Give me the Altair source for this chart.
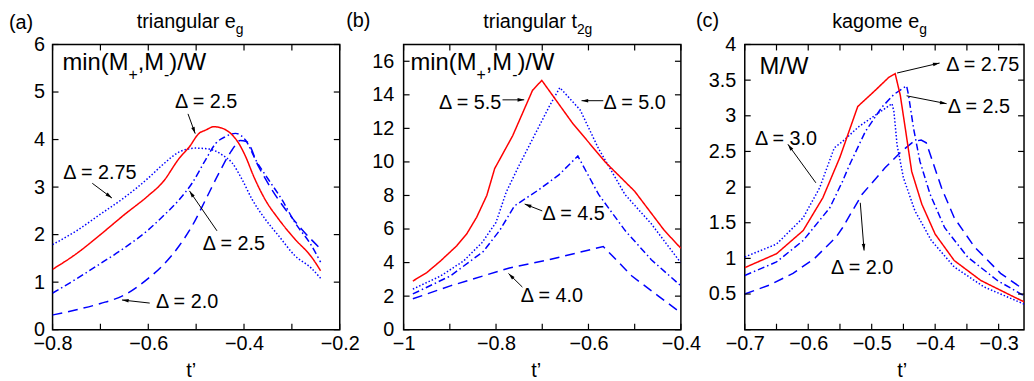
import math
import altair as alt
import pandas as pd

FONT = "Liberation Sans"
RED = "#ff0000"
BLUE = "#0000ff"

# ---------------- panel (a): triangular e_g ----------------
A_RED_X = [-0.80, -0.75, -0.70, -0.65, -0.60, -0.57, -0.535, -0.514, -0.494, -0.48, -0.463, -0.446, -0.428, -0.411, -0.397, -0.38, -0.356, -0.328, -0.294, -0.259, -0.24]
A_RED_Y = [1.27, 1.60, 2.00, 2.42, 2.82, 3.10, 3.61, 3.85, 4.13, 4.20, 4.27, 4.24, 4.13, 3.92, 3.65, 3.23, 2.74, 2.33, 1.91, 1.53, 1.24]
A_DOT_X = [-0.80, -0.75, -0.70, -0.65, -0.60, -0.57, -0.535, -0.501, -0.473, -0.446, -0.425, -0.404, -0.383, -0.356, -0.328, -0.294, -0.259, -0.24]
A_DOT_Y = [1.79, 2.08, 2.43, 2.78, 3.19, 3.47, 3.74, 3.82, 3.80, 3.68, 3.51, 3.16, 2.74, 2.33, 1.98, 1.56, 1.29, 1.08]
A_DDOT_X = [-0.80, -0.75, -0.70, -0.65, -0.60, -0.57, -0.535, -0.508, -0.48, -0.459, -0.439, -0.418, -0.397, -0.376, -0.349, -0.321, -0.294, -0.259, -0.24]
A_DDOT_Y = [0.77, 1.07, 1.39, 1.72, 2.10, 2.38, 2.74, 3.09, 3.58, 3.92, 4.06, 4.13, 3.99, 3.58, 3.16, 2.74, 2.26, 1.77, 1.42]
A_DASH_X = [-0.80, -0.75, -0.70, -0.65, -0.60, -0.57, -0.535, -0.508, -0.48, -0.452, -0.425, -0.408, -0.395, -0.37, -0.342, -0.314, -0.28, -0.24]
A_DASH_Y = [0.31, 0.42, 0.55, 0.73, 1.08, 1.35, 1.77, 2.19, 2.74, 3.30, 3.78, 3.98, 3.96, 3.44, 2.95, 2.54, 2.12, 1.70]
A_XLAB = [-0.8, -0.6, -0.4, -0.2]
A_YLAB = [0, 1, 2, 3, 4, 5, 6]
A_XTICK = [-0.8, -0.7, -0.6, -0.5, -0.4, -0.3, -0.2]
A_YTICK = [0, 1, 2, 3, 4, 5, 6]
A_NOTE_T = ["Δ = 2.5", "Δ = 2.75", "Δ = 2.5", "Δ = 2.0"]
A_NOTE_X = [-0.479, -0.701, -0.421, -0.519]
A_NOTE_Y = [4.79, 3.29, 1.81, 0.58]
A_ARR_X1 = [-0.517, -0.717, -0.4565, -0.597]
A_ARR_Y1 = [4.54, 3.08, 2.08, 0.56]
A_ARR_X2 = [-0.502, -0.676, -0.514, -0.655]
A_ARR_Y2 = [4.125, 2.77, 2.92, 0.625]

# ---------------- panel (b): triangular t_2g ----------------
B_RED_X = [-0.98, -0.95, -0.92, -0.885, -0.863, -0.842, -0.82, -0.803, -0.764, -0.721, -0.701, -0.635, -0.564, -0.50, -0.436, -0.40]
B_RED_Y = [2.90, 3.40, 4.10, 5.00, 5.73, 6.70, 8.00, 9.60, 11.56, 14.27, 14.86, 12.33, 10.00, 8.25, 5.92, 4.85]
B_DOT_X = [-0.98, -0.92, -0.87, -0.83, -0.80, -0.778, -0.75, -0.721, -0.685, -0.662, -0.618, -0.578, -0.521, -0.464, -0.40]
B_DOT_Y = [2.42, 3.20, 4.10, 5.20, 6.40, 8.20, 9.80, 11.36, 13.30, 14.43, 13.10, 10.78, 8.06, 6.31, 3.98]
B_DDOT_X = [-0.98, -0.899, -0.828, -0.792, -0.76, -0.707, -0.664, -0.623, -0.578, -0.521, -0.464, -0.40]
B_DDOT_Y = [2.13, 3.20, 4.65, 5.92, 7.38, 8.35, 9.23, 10.35, 8.06, 5.92, 4.17, 2.61]
B_DASH_X = [-0.98, -0.899, -0.771, -0.685, -0.568, -0.506, -0.45, -0.40]
B_DASH_Y = [1.84, 2.61, 3.68, 4.17, 4.96, 3.20, 2.03, 1.00]
B_XLAB = [-1, -0.8, -0.6, -0.4]
B_YLAB = [0, 2, 4, 6, 8, 10, 12, 14, 16]
B_XTICK = [-1, -0.9, -0.8, -0.7, -0.6, -0.5, -0.4]
B_YTICK = [0, 2, 4, 6, 8, 10, 12, 14, 16]
B_NOTE_T = ["Δ = 5.5", "Δ = 5.0", "Δ = 4.5", "Δ = 4.0"]
B_NOTE_X = [-0.856, -0.50, -0.632, -0.679]
B_NOTE_Y = [13.5, 13.5, 6.91, 2.01]
B_ARR_X1 = [-0.786, -0.568, -0.70, -0.743]
B_ARR_Y1 = [13.7, 13.65, 7.08, 2.54]
B_ARR_X2 = [-0.739, -0.615, -0.738, -0.773]
B_ARR_Y2 = [13.7, 13.65, 7.49, 3.35]

# ---------------- panel (c): kagome e_g ----------------
C_RED_X = [-0.70, -0.65, -0.608, -0.577, -0.55, -0.522, -0.494, -0.473, -0.463, -0.455, -0.447, -0.437, -0.421, -0.40, -0.37, -0.328, -0.276, -0.255]
C_RED_Y = [0.87, 1.065, 1.39, 1.85, 2.42, 3.13, 3.36, 3.54, 3.59, 3.29, 2.82, 2.22, 1.76, 1.34, 0.97, 0.69, 0.46, 0.37]
C_DOT_X = [-0.70, -0.65, -0.608, -0.582, -0.559, -0.546, -0.52, -0.494, -0.468, -0.465, -0.46, -0.45, -0.432, -0.406, -0.37, -0.323, -0.255]
C_DOT_Y = [1.02, 1.20, 1.57, 1.99, 2.55, 2.64, 2.85, 3.01, 3.17, 3.06, 2.59, 2.13, 1.67, 1.25, 0.88, 0.60, 0.34]
C_DDOT_X = [-0.70, -0.65, -0.608, -0.566, -0.546, -0.535, -0.51, -0.484, -0.465, -0.445, -0.442, -0.434, -0.424, -0.408, -0.385, -0.349, -0.302, -0.255]
C_DDOT_Y = [0.76, 0.95, 1.25, 1.71, 2.08, 2.31, 2.78, 3.12, 3.30, 3.42, 3.29, 2.82, 2.36, 1.90, 1.43, 1.02, 0.69, 0.45]
C_DASH_X = [-0.70, -0.66, -0.624, -0.59, -0.556, -0.546, -0.515, -0.479, -0.453, -0.434, -0.422, -0.414, -0.406, -0.39, -0.37, -0.338, -0.297, -0.255]
C_DASH_Y = [0.50, 0.63, 0.79, 1.00, 1.30, 1.43, 1.90, 2.27, 2.50, 2.64, 2.66, 2.62, 2.41, 1.99, 1.57, 1.16, 0.79, 0.53]
C_XLAB = [-0.7, -0.6, -0.5, -0.4, -0.3]
C_YLAB = [0.5, 1, 1.5, 2, 2.5, 3, 3.5, 4]
C_XTICK = [-0.7, -0.65, -0.6, -0.55, -0.5, -0.45, -0.4, -0.35, -0.3]
C_YTICK = [0, 0.5, 1, 1.5, 2, 2.5, 3, 3.5, 4]
C_NOTE_T = ["Δ = 2.75", "Δ = 2.5", "Δ = 3.0", "Δ = 2.0"]
C_NOTE_X = [-0.325, -0.331, -0.635, -0.515]
C_NOTE_Y = [3.71, 3.125, 2.68, 0.86]
C_ARR_X1 = [-0.46, -0.445, -0.588, -0.518]
C_ARR_Y1 = [3.60, 3.28, 2.06, 1.78]
C_ARR_X2 = [-0.393, -0.382, -0.632, -0.512]
C_ARR_Y2 = [3.74, 3.17, 2.60, 1.11]

DASHES = {"solid": [1, 0], "dotted": [1.5, 2], "dashed": [10, 6], "dashdot": [7, 3, 1.5, 3]}
ARROW = "M0,0L-1.2,4.5L1.2,4.5Z"
ONE = pd.DataFrame({"k": [0]})


def ptext(txt, x, y, size=20, align="left"):
    return alt.Chart(ONE).mark_text(
        text=txt, font=FONT, fontSize=size, align=align, baseline="alphabetic", color="black"
    ).encode(x=alt.value(x), y=alt.value(y))


def panel(W, H, xdom, ydom, xlab, ylab, xtick, ytick, ylabpad, series,
          nt, nx, ny, ax1, ay1, ax2, ay2, texts, interp="linear"):
    xenc = alt.X("x:Q", scale=alt.Scale(domain=xdom, nice=False, zero=False),
                 axis=alt.Axis(values=xlab, format="~g", labelPadding=4, labelBaseline="top",
                               labelFlush=False, labelOverlap=False), title=None)
    yenc = alt.Y("y:Q", scale=alt.Scale(domain=ydom, nice=False, zero=False),
                 axis=alt.Axis(values=ylab, format="~g", labelPadding=ylabpad,
                               labelFlush=False, labelOverlap=False), title=None)
    layers = []
    for xs, ys, color, dash in series:
        df = pd.DataFrame({"x": xs, "y": ys, "o": list(range(len(xs)))})
        layers.append(alt.Chart(df).mark_line(color=color, strokeDash=DASHES[dash], strokeWidth=1.5,
                                              interpolate=interp, clip=True).encode(
            x=xenc, y=yenc, order="o:Q"))
    xt = pd.DataFrame({"x": xtick})
    yt = pd.DataFrame({"y": ytick})
    tk = dict(color="black", strokeWidth=1.2)
    layers.append(alt.Chart(xt).mark_rule(**tk).encode(x=xenc, y=alt.value(H), y2=alt.value(H - 6)))
    layers.append(alt.Chart(xt).mark_rule(**tk).encode(x=xenc, y=alt.value(0), y2=alt.value(6)))
    layers.append(alt.Chart(yt).mark_rule(**tk).encode(y=yenc, x=alt.value(0), x2=alt.value(6)))
    layers.append(alt.Chart(yt).mark_rule(**tk).encode(y=yenc, x=alt.value(W), x2=alt.value(W - 6)))
    # annotations
    notes = pd.DataFrame({"x": nx, "y": ny, "t": nt})
    layers.append(alt.Chart(notes).mark_text(font=FONT, fontSize=20, align="center", baseline="middle",
                                             color="black").encode(x=xenc, y=yenc, text="t:N"))
    sx = W / (xdom[1] - xdom[0])
    sy = H / (ydom[1] - ydom[0])
    angs = []
    for a, b, c, d in zip(ax1, ay1, ax2, ay2):
        dx = (c - a) * sx
        dys = -(d - b) * sy
        angs.append(math.degrees(math.atan2(dx, -dys)) % 360)
    arr = pd.DataFrame({"x": ax1, "y": ay1, "x2": ax2, "y2": ay2})
    layers.append(alt.Chart(arr).mark_rule(color="black", strokeWidth=1).encode(
        x=xenc, y=yenc, x2="x2:Q", y2="y2:Q"))
    heads = pd.DataFrame({"x": ax2, "y": ay2, "ang": angs})
    layers.append(alt.Chart(heads).mark_point(shape=ARROW, filled=True, size=9, color="black",
                                              opacity=1, strokeWidth=0).encode(
        x=xenc, y=yenc, angle=alt.Angle("ang:Q", scale=None)))
    for t in texts:
        layers.append(ptext(*t))
    return alt.layer(*layers).properties(width=W, height=H)


H = 288
pa = panel(290, H, [-0.8, -0.2], [0, 6], A_XLAB, A_YLAB, A_XTICK, A_YTICK, 8,
           [(A_DOT_X, A_DOT_Y, BLUE, "dotted"), (A_DDOT_X, A_DDOT_Y, BLUE, "dashdot"),
            (A_DASH_X, A_DASH_Y, BLUE, "dashed"), (A_RED_X, A_RED_Y, RED, "solid")],
           A_NOTE_T, A_NOTE_X, A_NOTE_Y, A_ARR_X1, A_ARR_Y1, A_ARR_X2, A_ARR_Y2,
           [("(a)", -44, -15.5, 20), ("triangular e", 185, -16.5, 20, "right"), ("g", 185, -11, 14),
            ("min(M", 10, 26, 24), ("+", 76.6, 36, 16), (",M", 85.9, 26, 24), ("-", 112.6, 36, 16),
            (")/W", 117.9, 26, 24), ("t’", 140, H + 48, 20, "center")], interp="monotone")

pb = panel(280, H, [-1, -0.4], [0, 17], B_XLAB, B_YLAB, B_XTICK, B_YTICK, 10,
           [(B_DOT_X, B_DOT_Y, BLUE, "dotted"), (B_DDOT_X, B_DDOT_Y, BLUE, "dashdot"),
            (B_DASH_X, B_DASH_Y, BLUE, "dashed"), (B_RED_X, B_RED_Y, RED, "solid")],
           B_NOTE_T, B_NOTE_X, B_NOTE_Y, B_ARR_X1, B_ARR_Y1, B_ARR_X2, B_ARR_Y2,
           [("(b)", -58, -17.5, 20), ("triangular t", 175, -16.5, 20, "right"), ("2g", 175, -10.5, 14),
            ("min(M", 7, 26, 24), ("+", 73.6, 36, 16), (",M", 82.9, 26, 24), ("-", 109.6, 36, 16),
            (")/W", 114.9, 26, 24), ("t’", 134, H + 48, 20, "center")])

pc = panel(282, H, [-0.7, -0.26], [0, 4], C_XLAB, C_YLAB, C_XTICK, C_YTICK, 9,
           [(C_DOT_X, C_DOT_Y, BLUE, "dotted"), (C_DDOT_X, C_DDOT_Y, BLUE, "dashdot"),
            (C_DASH_X, C_DASH_Y, BLUE, "dashed"), (C_RED_X, C_RED_Y, RED, "solid")],
           C_NOTE_T, C_NOTE_X, C_NOTE_Y, C_ARR_X1, C_ARR_Y1, C_ARR_X2, C_ARR_Y2,
           [("(c)", -49.3, -18, 20), ("kagome e", 176.1, -16.5, 20, "right"), ("g", 176.1, -11, 14),
            ("M/W", 15, 30, 24), ("t’", 159, H + 48, 20, "center")])

chart = alt.hconcat(pa, pb, pc, spacing=64.5, bounds="flush").properties(
    padding={"left": 0, "top": 0, "right": 0, "bottom": 0}
).configure_view(
    stroke="black", strokeWidth=1.5
).configure_axis(
    labelFont=FONT, labelFontSize=20, labelColor="black", ticks=False, domain=False, grid=False
)

chart.save("out.html", embed_options={"renderer": "svg", "actions": False})
